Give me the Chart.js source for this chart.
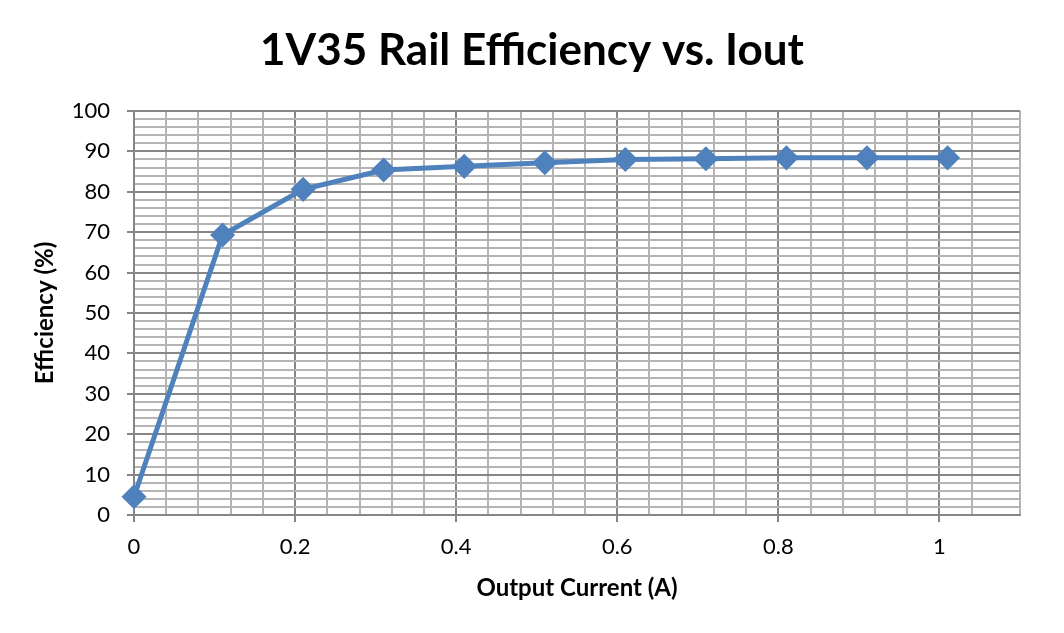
<!DOCTYPE html>
<html>
<head>
<meta charset="utf-8">
<script src="https://cdn.jsdelivr.net/npm/chart.js"></script>
<style>
  html, body { margin: 0; padding: 0; background: #fff; }
  #wrap { width: 1064px; height: 633px; }
</style>
</head>
<body>
<div id="wrap"><canvas id="grafico" width="1064" height="633"></canvas></div>
<script>
// corriente de salida (A) y eficiencia (%)
const corriente = [0, 0.11, 0.21, 0.31, 0.41, 0.51, 0.61, 0.71, 0.81, 0.91, 1.01];
const eficiencia = [4.5, 69.3, 80.6, 85.4, 86.3, 87.2, 88.0, 88.2, 88.4, 88.4, 88.4];

const MAYOR = '#868686';
const MENOR = '#b4b4b4';
const AZUL = '#4f81bd';

function esMayor(v, paso) {
  const r = v / paso;
  return Math.abs(r - Math.round(r)) < 1e-6;
}

const puntos = corriente.map((x, i) => ({ x: x, y: eficiencia[i] }));

const ctx = document.getElementById('grafico').getContext('2d');

new Chart(ctx, {
  type: 'line',
  data: {
    datasets: [{
      label: 'Eficiencia',
      data: puntos,
      borderColor: AZUL,
      backgroundColor: AZUL,
      borderWidth: 5,
      pointStyle: 'rectRot',
      pointRadius: 9,
      pointHoverRadius: 9,
      tension: 0,
      fill: false,
      clip: false
    }]
  },
  options: {
    responsive: false,
    animation: false,
    layout: { padding: { left: 44, right: 44, top: 0, bottom: 10 } },
    plugins: {
      legend: { display: false },
      tooltip: { enabled: false },
      title: {
        display: true,
        text: '1V35 Rail Efficiency vs. Iout',
        color: '#000',
        font: { family: 'Lato', size: 44, weight: 'bold' },
        padding: { top: 24, bottom: 34.2 }
      }
    },
    scales: {
      x: {
        type: 'linear',
        min: 0,
        max: 1.1,
        afterFit: s => { s.height = 108; },
        border: { display: true, color: MAYOR, width: 2 },
        grid: {
          color: c => esMayor(c.tick.value, 0.2) ? MAYOR : MENOR,
          lineWidth: 2,
          tickLength: 7,
          tickColor: c => esMayor(c.tick.value, 0.2) ? MAYOR : 'rgba(0,0,0,0)'
        },
        ticks: {
          stepSize: 0.04,
          maxTicksLimit: 1000,
          autoSkip: false,
          maxRotation: 0,
          padding: 12,
          color: '#000',
          font: { family: 'Lato', size: 22 },
          callback: v => esMayor(v, 0.2) ? String(+v.toFixed(1)) : ''
        },
        title: {
          display: true,
          text: 'Output Current (A)',
          color: '#000',
          font: { family: 'Lato', size: 24, weight: 'bold' },
          padding: { top: 0, bottom: 20.6 }
        }
      },
      y: {
        min: 0,
        max: 100,
        afterFit: s => { s.width = 90; },
        border: { display: true, color: MAYOR, width: 2 },
        grid: {
          color: c => esMayor(c.tick.value, 10) ? MAYOR : MENOR,
          lineWidth: 2,
          tickLength: 7,
          tickColor: c => esMayor(c.tick.value, 10) ? MAYOR : 'rgba(0,0,0,0)'
        },
        ticks: {
          stepSize: 2,
          maxTicksLimit: 1000,
          autoSkip: false,
          padding: 17,
          color: '#000',
          font: { family: 'Lato', size: 22 },
          callback: v => esMayor(v, 10) ? String(v) : ''
        },
        title: {
          display: true,
          text: 'Efficiency (%)',
          color: '#000',
          font: { family: 'Lato', size: 24, weight: 'bold' },
          padding: { top: -13.4, bottom: 0 }
        }
      }
    }
  }
});
</script>
</body>
</html>
